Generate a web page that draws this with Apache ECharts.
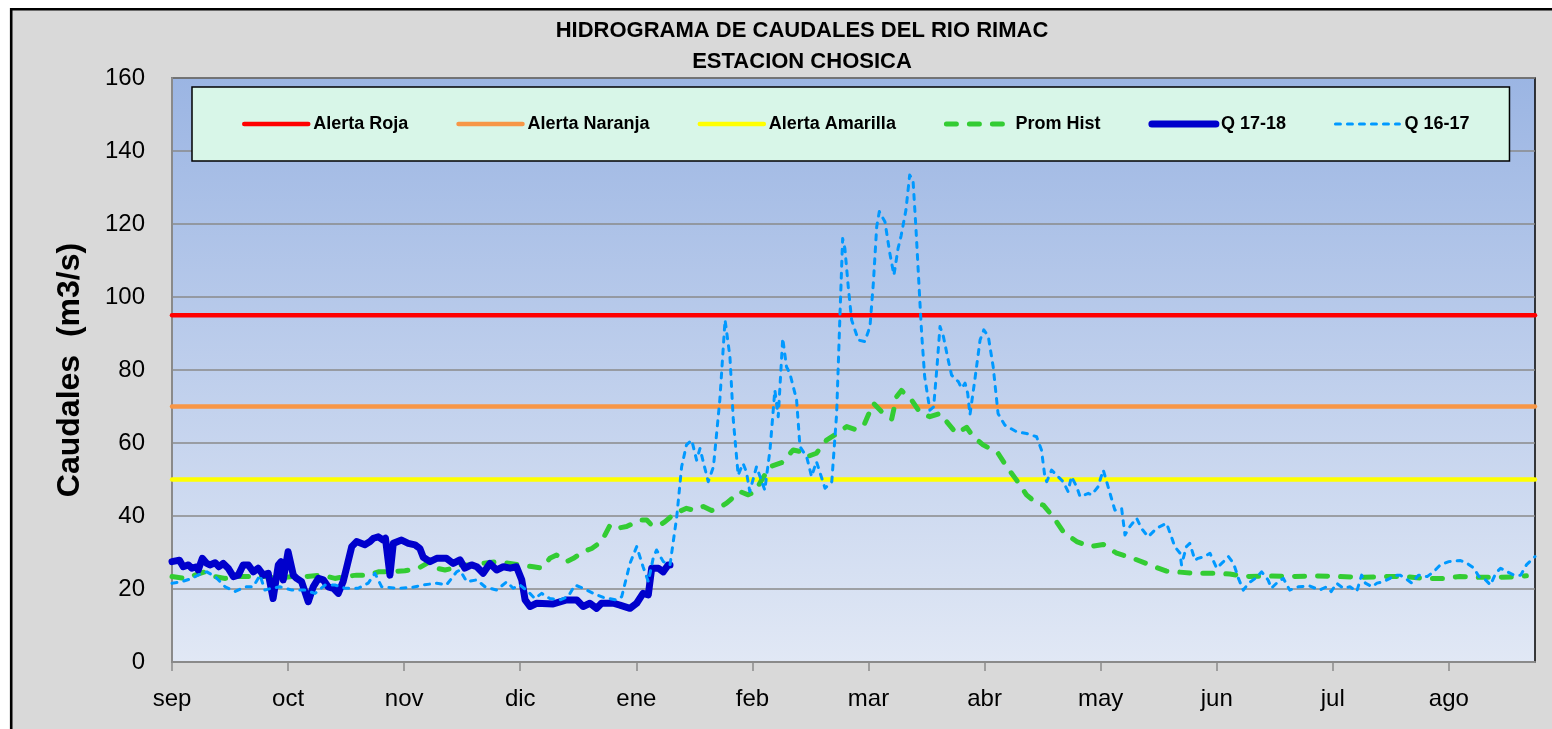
<!DOCTYPE html>
<html><head><meta charset="utf-8">
<script src="https://cdn.jsdelivr.net/npm/echarts@6/dist/echarts.min.js"></script>
<style>html,body{margin:0;padding:0;background:#fff}#c{width:1552px;height:729px}</style>
</head><body><div id="c"></div>
<script>
// ---- data ----
const months = ['sep','oct','nov','dic','ene','feb','mar','abr','may','jun','jul','ago'];
const monthTickDays = [0,31,62,93,124,155,186,217,248,279,310,341];
const lastDay = 364;
const alertaRoja = 95;
const alertaNaranja = 70;
const alertaAmarilla = 50;

const promHist = [[0,23.4],[3.5,22.9],[6.1,23.8],[8.8,24.7],[11.5,23.4],[14.2,22.9],[17.7,23.4],[21.3,23.4],[24.8,23.4],[28.4,22.9],[32,23.4],[35.5,23.4],[40,23.8],[43.5,22.9],[46.2,23.4],[49.3,23.8],[52.4,23.8],[55.1,24.7],[58.7,24.7],[62.2,25],[65.8,25.7],[68.9,27.5],[70.7,25.7],[72.9,25.2],[75.1,25.7],[76.9,26.6],[79.6,26.6],[82.7,27],[86.7,27.5],[90.3,27],[92.9,26.6],[96.5,26.1],[98.7,25.7],[100.9,28.4],[102.7,29.3],[105.4,27.5],[107.2,28.4],[109.8,30.2],[112.1,31.1],[114.7,33],[117,37.5],[118.7,36.6],[121.4,37.1],[125,38.9],[126.8,38.9],[128.1,37.5],[130.3,37.5],[131.6,38.4],[134.3,40.7],[137.4,42.1],[139.2,41.6],[141.9,42.6],[144.1,41.5],[145.9,42.1],[148.1,43.5],[151.7,46.7],[153.9,45.8],[155.7,46.7],[157.5,49.9],[159.7,53.5],[162.8,54.6],[165.9,58.1],[168.1,57.6],[169.5,56.2],[172.1,57.2],[174.8,60.8],[177,62.2],[180.2,64.5],[182.8,63.6],[185,65.4],[187.3,70.9],[189.5,68.6],[192.2,66.6],[193.5,72.7],[194.8,74.4],[197.5,71.8],[199.7,68.4],[202.4,67.2],[205.1,68.1],[206.9,65.8],[209.5,62.6],[212.2,64.3],[214,61.7],[216.6,59.5],[218.4,58.5],[220.6,57.2],[222.9,53.5],[225.5,49.9],[228.2,45.8],[230.9,43.5],[232.7,43],[235.3,39.8],[238,35.7],[241.6,33],[245.1,31.6],[248.7,32.2],[252.3,29.8],[256.7,28.4],[261.1,26.6],[265.6,24.9],[268.3,24.7],[272.7,24.3],[278.1,24.3],[282.5,24.1],[287,23.4],[292.3,23.6],[298.5,23.4],[305.7,23.6],[311.9,23.4],[318.1,23.2],[323.5,23.4],[329.7,23.4],[334.1,22.9],[339.5,22.9],[343.9,23.4],[349.3,23.2],[354.6,23.2],[359.9,23.4],[361.7,23.6]];

const q1718 = [[0,27.5],[2,27.9],[3,26.1],[4.4,26.6],[5.3,25.7],[6.6,26.1],[7,25.2],[8.1,28.4],[9.3,27],[10.1,26.6],[11.5,27.2],[12.5,26.1],[13.7,27],[15,25.7],[16.4,23.4],[17.7,23.8],[19,26.6],[20.4,26.6],[21.7,24.7],[23,25.7],[24.4,23.8],[25.7,24.3],[27,17.4],[28.4,26.6],[29.1,27.5],[29.7,22.5],[31,30.2],[32.4,23.8],[33.3,22.9],[34.6,22],[36.4,16.5],[37.7,20.6],[39.1,22.9],[40.4,22.5],[41.7,20.6],[43.1,20.2],[44.4,18.8],[45.7,22],[46.6,25.7],[48,31.6],[49.3,33],[51.5,32.1],[52.9,33],[53.8,33.9],[55.1,34.3],[56.4,33.4],[57,33.9],[58.2,23.8],[59.1,32.5],[61.3,33.4],[63.1,32.5],[64.9,32.1],[66.2,31.1],[67.1,28.7],[68.9,27.5],[70.7,28.4],[73.3,28.4],[75.1,27],[76.9,28],[78.2,25.7],[80,26.6],[81.4,26.1],[83.1,24.3],[84.9,27],[86.7,25.2],[88.5,26.1],[90.3,25.7],[92,26.1],[93.4,22.5],[94.3,17],[95.6,15.2],[97.4,16.1],[101.8,15.9],[105.4,17],[108.1,17],[109.8,15.2],[111.6,16.1],[113.4,14.7],[114.7,16.1],[117.8,16.1],[119.6,15.6],[122.3,14.7],[124.1,16.1],[125.8,18.8],[127.2,18.4],[128.1,25.7],[129.9,25.7],[131.2,24.7],[132.5,26.6],[133,26.6]];

const q1617 = [[0,21.6],[2.6,22],[5.3,22.9],[7.9,24.3],[9.3,24.7],[11.5,23.4],[14.2,20.6],[16.8,19.3],[19.5,20.6],[21.7,20.6],[23.5,23.8],[24.8,19.7],[26.6,20.2],[28.8,20.6],[32,19.7],[35.5,19.7],[38.2,18.8],[40.9,21.1],[43.5,21.1],[46.2,20.2],[49.7,20.2],[52.4,21.6],[54.2,24.3],[56,20.6],[60.4,20.2],[64,20.4],[67.1,21.1],[70.7,21.6],[73.3,21.1],[76,24.7],[76.9,25.2],[78.7,22],[81.4,22.5],[83.6,20.6],[86.7,19.7],[89.4,22],[91.1,20.2],[92.9,21.1],[95.1,19.3],[96.9,17.4],[98.7,18.8],[100.9,17.4],[103.6,17],[105.8,17.9],[107.6,21.1],[109.8,20.2],[112.5,18.8],[115.2,17.7],[118.7,17],[120.1,17.9],[122.3,27],[124.1,31.6],[125.8,26.1],[127.2,22],[128.5,28.4],[129.4,30.7],[131.2,27.5],[133,26.6],[134.8,39.8],[136.1,53.5],[137.4,59.5],[138.8,60.8],[140.1,55.3],[141,58.5],[143.2,49.4],[144.6,53.5],[146.3,71.8],[147.7,93.7],[148.1,93.9],[149,83.6],[149.9,66.3],[151.2,51.2],[152.5,54.4],[153.4,52.1],[154.3,46.7],[156.1,53.5],[158.3,47.1],[159.7,58.1],[161,74.5],[161.9,67.2],[163.1,88.7],[164.1,80.9],[165,79.1],[166.8,71.8],[167.7,59],[169.5,56.2],[170.8,50.8],[172.1,54.9],[174.4,47.6],[176.2,49.4],[177.5,68.1],[178.4,95.5],[179.1,116],[179.7,113.3],[180.6,102.8],[181.5,93.7],[183.3,88.2],[185,87.8],[186.4,91.9],[187.3,103.8],[188.2,119.3],[188.9,123.4],[190.4,120.6],[191.7,112],[192.8,106],[193.9,113.3],[194.7,116.7],[196,123.8],[197,133.4],[197.9,132],[198.7,118.4],[199.7,99.2],[200.2,90],[201,78.2],[202.4,69],[203.4,69.9],[204.3,80.9],[205.1,91.9],[206,89.2],[207.3,82.7],[208.2,78.6],[210,76.8],[210.9,75],[211.8,76.4],[212.5,73.6],[213.1,67.7],[214.4,77.3],[215.8,88.2],[216.8,91],[218,89.2],[219.3,80.9],[220.6,68.1],[222.4,64.9],[225.5,63.1],[228.2,62.6],[230.9,61.7],[232.2,58.1],[233.1,50.8],[233.6,49.4],[234.9,52.6],[236.2,51.2],[238,49.4],[239.3,46.7],[240.2,50.8],[241.6,48],[242.5,45.3],[244.7,46.2],[245.6,45.8],[247.3,48],[248.7,52.6],[250,48],[251.8,41.6],[253.6,42.1],[254.5,34.8],[255.8,37.1],[257.6,39.4],[258.9,36.6],[260.7,34.3],[262.9,36.6],[265.6,38],[266.9,34.3],[267.8,31.6],[269.2,29.8],[269.6,26.6],[270.9,31.6],[271.8,32.5],[273.2,27.9],[274,28.4],[275.8,28.9],[277.2,29.8],[279,25.7],[280.8,27.5],[282.1,28.9],[283.5,27],[284.8,22.9],[286.1,19.7],[287.5,21.6],[289.3,22.9],[291,24.7],[292.7,22.5],[293.6,20.2],[295.4,22],[296.8,22.9],[298.5,19.7],[300.8,20.6],[303.9,20.8],[306.5,19.7],[308.3,20.6],[309.6,19.3],[311,21.6],[312.8,20.2],[314.6,20.6],[316.4,19.3],[317.7,23.8],[318.7,21.6],[320.5,20.6],[321.8,21.6],[323.5,22],[325.3,22.9],[326.2,23.8],[328,23.8],[329.4,22.9],[331.1,21.6],[332.9,23.8],[335.2,23.4],[336.9,24.7],[338.7,26.6],[341,27.5],[344.1,27.8],[345.9,27],[347.7,25.7],[349,23.4],[350.8,22.5],[352.1,21.1],[353.5,24.3],[354.8,25.7],[356.6,24.7],[358.4,23.8],[360.2,23.8],[361.7,26.6],[364,28.9]];

// ---- chart ----
const FONT = 'Liberation Sans, Arial, sans-serif';
const chart = echarts.init(document.getElementById('c'), null, {renderer: 'canvas'});

function flat(level) { return [[0, level], [lastDay, level]]; }

const option = {
  backgroundColor: '#d9d9d9',
  animation: false,
  graphic: [
    {type: 'rect', shape: {x: 0, y: 0, width: 1552, height: 8}, style: {fill: '#fff'}, silent: true},
    {type: 'rect', shape: {x: 0, y: 0, width: 10, height: 729}, style: {fill: '#fff'}, silent: true},
    {type: 'line', shape: {x1: 10, y1: 9.2, x2: 1552, y2: 9.2}, style: {stroke: '#000', lineWidth: 2.6}, silent: true},
    {type: 'line', shape: {x1: 11.2, y1: 8, x2: 11.2, y2: 729}, style: {stroke: '#000', lineWidth: 2.6}, silent: true},
    {type: 'text', x: 802, y: 31, style: {text: 'HIDROGRAMA DE CAUDALES DEL RIO RIMAC', font: 'bold 22px ' + FONT, fill: '#000', textAlign: 'center', textVerticalAlign: 'middle'}},
    {type: 'text', x: 802, y: 62, style: {text: 'ESTACION CHOSICA', font: 'bold 22px ' + FONT, fill: '#000', textAlign: 'center', textVerticalAlign: 'middle'}}
  ],
  grid: {
    left: 172, right: 17, top: 78, bottom: 67,
    show: true,
    borderColor: '#000', borderWidth: 1.5,
    backgroundColor: {type: 'linear', x: 0, y: 0, x2: 0, y2: 1,
      colorStops: [{offset: 0, color: '#9bb5e3'}, {offset: 1, color: '#e1e8f5'}]}
  },
  legend: {
    left: 192, top: 87,
    padding: [28, 40, 28, 50],
    itemGap: 48,
    itemWidth: 64, itemHeight: 14,
    backgroundColor: '#d8f6e8',
    borderColor: '#000', borderWidth: 1.5,
    selectedMode: false,
    textStyle: {fontFamily: FONT, fontWeight: 'bold', fontSize: 18, color: '#000'},
    itemStyle: {opacity: 0},
    lineStyle: {width: 'inherit'},
    data: ['Alerta Roja', 'Alerta Naranja', 'Alerta Amarilla', 'Prom Hist', 'Q 17-18', 'Q 16-17']
  },
  xAxis: {
    type: 'value', min: 0, max: lastDay, interval: 31,
    axisLine: {show: true, lineStyle: {color: '#8a8a8a', width: 2}},
    axisTick: {show: true, customValues: monthTickDays, length: 9, lineStyle: {color: '#8a8a8a', width: 1.5}},
    axisLabel: {customValues: monthTickDays, formatter: v => months[Math.round(v / 31)] || '', fontFamily: FONT, fontSize: 24, color: '#000', margin: 25},
    splitLine: {show: false}
  },
  yAxis: {
    type: 'value', min: 0, max: 160, interval: 20,
    name: 'Caudales  (m3/s)', nameLocation: 'middle', nameGap: 86,
    nameTextStyle: {fontFamily: FONT, fontWeight: 'bold', fontSize: 32, color: '#000'},
    axisLine: {show: true, lineStyle: {color: '#8a8a8a', width: 2}},
    axisTick: {show: false},
    axisLabel: {fontFamily: FONT, fontSize: 24, color: '#000', margin: 27},
    splitLine: {show: true, lineStyle: {color: '#8a8a8a', width: 1.5}}
  },
  series: [
    {name: 'Alerta Roja', type: 'line', data: flat(alertaRoja), symbol: 'none', color: '#ff0000',
      lineStyle: {color: '#ff0000', width: 4.5, cap: 'round'}},
    {name: 'Alerta Naranja', type: 'line', data: flat(alertaNaranja), symbol: 'none', color: '#f79646',
      lineStyle: {color: '#f79646', width: 4.5, cap: 'round'}},
    {name: 'Alerta Amarilla', type: 'line', data: flat(alertaAmarilla), symbol: 'none', color: '#ffff00',
      lineStyle: {color: '#ffff00', width: 4.5, cap: 'round'}},
    {name: 'Prom Hist', type: 'line', data: promHist, symbol: 'none', color: '#33cc33',
      lineStyle: {color: '#33cc33', width: 5, type: [10, 13], cap: 'round', join: 'round'}},
    {name: 'Q 17-18', type: 'line', data: q1718, symbol: 'none', color: '#0000cc',
      lineStyle: {color: '#0000cc', width: 7, cap: 'round', join: 'round'}},
    {name: 'Q 16-17', type: 'line', data: q1617, symbol: 'none', color: '#0099ff',
      lineStyle: {color: '#0099ff', width: 3, type: [5, 7], cap: 'round', join: 'round'}}
  ]
};
chart.setOption(option);
</script>
</body></html>
